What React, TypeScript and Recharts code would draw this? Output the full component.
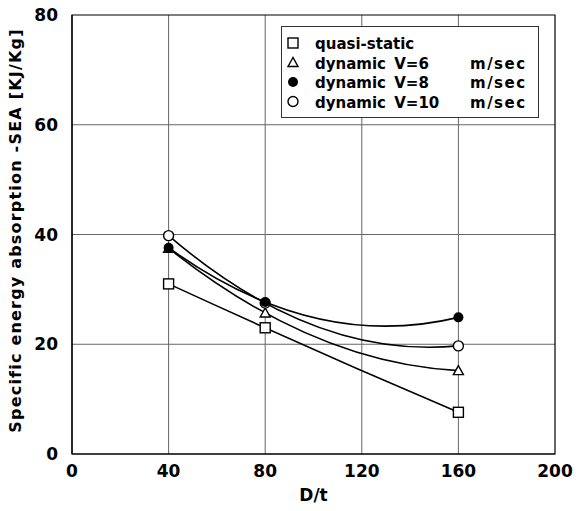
import React from 'react';
import {
  LineChart,
  Line,
  XAxis,
  YAxis,
  CartesianGrid,
  ReferenceArea,
  Legend,
} from 'recharts';

const dRatio = [40, 80, 160];
const quasiStatic = [31, 23, 7.6];
const dynamicV6 = [37.5, 25.7, 15.2];
const dynamicV8 = [37.6, 27.7, 24.9];
const dynamicV10 = [39.8, 27.5, 19.7];

const xTicks = [0, 40, 80, 120, 160, 200];
const yTicks = [0, 20, 40, 60, 80];

const data = dRatio.map((d, i) => ({
  d,
  qs: quasiStatic[i],
  v6: dynamicV6[i],
  v8: dynamicV8[i],
  v10: dynamicV10[i],
}));

const FONT = '"DejaVu Sans", Verdana, sans-serif';

// parabola through three points, drawn as one quadratic bezier
const parabola = (context: any) => {
  let pts: [number, number][] = [];
  return {
    areaStart() {},
    areaEnd() {},
    lineStart() {
      pts = [];
    },
    point(x: number, y: number) {
      pts.push([+x, +y]);
    },
    lineEnd() {
      if (pts.length !== 3) {
        pts.forEach(([x, y], i) => (i ? context.lineTo(x, y) : context.moveTo(x, y)));
        return;
      }
      const [[x0, y0], [x1, y1], [x2, y2]] = pts;
      const d01 = (y1 - y0) / (x1 - x0);
      const d12 = (y2 - y1) / (x2 - x1);
      const a = (d12 - d01) / (x2 - x0);
      const slope0 = d01 + a * (x0 - x1);
      const xm = (x0 + x2) / 2;
      context.moveTo(x0, y0);
      context.quadraticCurveTo(xm, y0 + slope0 * (xm - x0), x2, y2);
    },
  };
};

type Shape = 'square' | 'triangle' | 'filled' | 'circle';

const Marker = ({ cx, cy, shape }: { cx: number; cy: number; shape: Shape }) => {
  if (shape === 'square')
    return <rect x={cx - 5} y={cy - 5} width={10} height={10} fill="#fff" stroke="#000" strokeWidth={1.4} />;
  if (shape === 'triangle')
    return (
      <polygon
        points={`${cx},${cy - 5} ${cx - 5},${cy + 4} ${cx + 5},${cy + 4}`}
        fill="#fff"
        stroke="#000"
        strokeWidth={1.4}
      />
    );
  if (shape === 'filled') return <circle cx={cx} cy={cy} r={5} fill="#000" />;
  return <circle cx={cx} cy={cy} r={5} fill="#fff" stroke="#000" strokeWidth={1.4} />;
};

const dot = (shape: Shape) => (props: any) =>
  <Marker key={`${shape}-${props.index}`} cx={props.cx} cy={props.cy} shape={shape} />;

const legendRows: { shape: Shape; name: string; unit: string }[] = [
  { shape: 'square', name: 'quasi-static', unit: '' },
  { shape: 'triangle', name: 'dynamic V=6', unit: 'm/sec' },
  { shape: 'filled', name: 'dynamic V=8', unit: 'm/sec' },
  { shape: 'circle', name: 'dynamic V=10', unit: 'm/sec' },
];

const LegendBox = () => (
  <svg width={258} height={92} style={{ display: 'block' }}>
    <rect x={0.5} y={0.5} width={257} height={91} fill="#fff" stroke="#333" strokeWidth={1} />
    {legendRows.map((r, i) => {
      const y = 17 + i * 19.5;
      return (
        <g key={r.name}>
          <Marker cx={12} cy={y} shape={r.shape} />
          <text x={34} y={y + 6} fontFamily={FONT} fontWeight="bold" fontSize={15} wordSpacing={3}>
            {r.name}
          </text>
          {r.unit && (
            <text x={189} y={y + 6} fontFamily={FONT} fontWeight="bold" fontSize={15} letterSpacing={1.5}>
              {r.unit}
            </text>
          )}
        </g>
      );
    })}
  </svg>
);

const YLabel = ({ viewBox }: any) => {
  const cy = viewBox.y + viewBox.height / 2 - 4;
  return (
    <text
      x={15}
      y={cy}
      transform={`rotate(-90, 15, ${cy})`}
      textAnchor="middle"
      dominantBaseline="central"
      fontFamily={FONT}
      fontWeight="bold"
      fontSize={16}
      letterSpacing={1.2}
      fill="#000"
    >
      Specific energy absorption -SEA [KJ/Kg]
    </text>
  );
};

const tickStyle = { fontFamily: FONT, fontWeight: 'bold', fontSize: 17, fill: '#000' };

export default function App() {
  return (
    <div style={{ position: 'absolute', left: 0, top: 0, background: '#fff' }}>
      <LineChart width={576} height={511} data={data} margin={{ top: 15, right: 21, bottom: 0, left: 0 }}>
        <CartesianGrid
          stroke="#666"
          strokeWidth={1}
          horizontalValues={[20, 40, 60]}
          verticalValues={[40, 80, 120, 160]}
        />
        <XAxis
          dataKey="d"
          type="number"
          domain={[0, 200]}
          ticks={xTicks}
          height={57}
          tickLine={false}
          axisLine={{ stroke: '#000', strokeWidth: 1.2 }}
          tick={tickStyle}
          tickMargin={5}
          label={{
            value: 'D/t',
            position: 'insideBottom',
            offset: 10,
            style: tickStyle,
          }}
        />
        <YAxis
          type="number"
          domain={[0, 80]}
          ticks={yTicks}
          width={72}
          tickLine={false}
          axisLine={{ stroke: '#000', strokeWidth: 1.2 }}
          tick={tickStyle}
          tickMargin={8}
          label={<YLabel />}
        />
        <ReferenceArea x1={0} x2={200} y1={0} y2={80} fill="none" stroke="#000" strokeWidth={1.2} ifOverflow="visible" />
        <Legend
          layout="vertical"
          align="center"
          verticalAlign="middle"
          content={() => <LegendBox />}
          wrapperStyle={{ left: 281, top: 26, width: 258, height: 92 }}
        />
        <Line dataKey="qs" type={parabola as any} stroke="#000" strokeWidth={1.6} dot={dot('square')} isAnimationActive={false} />
        <Line dataKey="v6" type={parabola as any} stroke="#000" strokeWidth={1.6} dot={dot('triangle')} isAnimationActive={false} />
        <Line dataKey="v10" type={parabola as any} stroke="#000" strokeWidth={1.6} dot={dot('circle')} isAnimationActive={false} />
        <Line dataKey="v8" type={parabola as any} stroke="#000" strokeWidth={1.6} dot={dot('filled')} isAnimationActive={false} />
      </LineChart>
    </div>
  );
}
